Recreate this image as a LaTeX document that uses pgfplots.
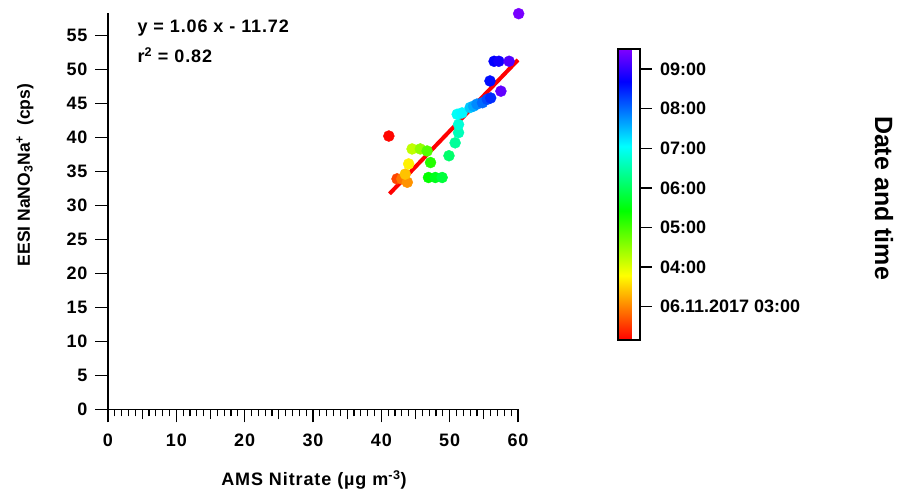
\documentclass[border=0pt]{standalone}
\usepackage{fontspec}
\setmainfont{Liberation Sans}
\newfontfamily\spaced[LetterSpace=5]{Liberation Sans}
\usepackage{pgfplots}
\usepackage{pgfplotstable}
\pgfplotsset{compat=1.18}
\newcommand\f{\spaced\bfseries\fontsize{18}{20}\selectfont}
\newcommand\fp{\bfseries\fontsize{18}{20}\selectfont}
\newcommand\fl{\bfseries\fontsize{17.5}{20}\selectfont}
\pgfplotstableread{
x y t
41.1 40.2 2.2
42.3 33.9 2.6
43.0 33.9 2.9
43.8 33.4 3.1
43.5 34.6 3.4
44.0 36.1 3.7
44.5 38.3 4.2
45.7 38.3 4.5
46.7 38.0 4.9
47.2 36.3 5.2
46.9 34.1 5.4
47.9 34.1 5.6
48.9 34.1 5.8
49.9 37.3 6.1
50.8 39.2 6.4
51.3 40.7 6.6
51.3 41.9 6.8
51.1 43.4 7.0
51.8 43.6 7.1
53.0 44.4 7.4
53.5 44.6 7.6
54.0 44.9 7.8
54.8 45.1 8.0
55.5 45.6 8.2
56.0 45.8 8.4
55.9 48.3 8.6
56.5 51.2 8.7
57.2 51.2 8.8
58.7 51.2 9.2
57.5 46.8 9.3
60.1 58.2 9.45
}\pts
\begin{document}
\begin{tikzpicture}
\path[use as bounding box] (0,0) rectangle (899pt,-500pt);
\begin{axis}[
  at={(108pt,-409.3pt)}, anchor=south west,
  width=410pt, height=396.3pt, scale only axis,
  xmin=0, xmax=60, ymin=0, ymax=58.3,
  clip=false,
  axis x line*=bottom, axis y line*=left,
  axis line style={line width=1.6pt, -},
  xtick={0,10,...,60}, minor x tick num=9,
  extra x ticks={5,15,25,35,45,55}, extra x tick labels={},
  extra x tick style={major tick length=10pt},
  ytick={0,5,...,55},
  tick align=outside,
  major tick length=13pt, minor tick length=7pt,
  every tick/.style={black, line width=1.3pt},
  /pgf/number format/assume math mode=true,
  tick label style={font=\f},
  xticklabel style={yshift=-8pt},
  yticklabel style={xshift=-4pt},
  colormap={igorrainbow}{rgb255(0cm)=(255,0,0); rgb255(2cm)=(255,255,0); rgb255(4cm)=(0,255,0); rgb255(6cm)=(0,255,255); rgb255(8cm)=(0,0,255); rgb255(9cm)=(128,0,255)},
  point meta min=2.16, point meta max=9.5,
  colorbar,
  colorbar style={
    at={(parent axis.south east)},
    anchor=south west,
    xshift=91pt, yshift=69.3pt,
    width=22pt, height=290.7pt, scale only axis,
    axis line style={line width=2pt},
    ytick={3,4,5,6,7,8,9},
    yticklabels={06.11.2017 03:00,04:00,05:00,06:00,07:00,08:00,09:00},
    ytick pos=right,
    tick align=outside,
    major tick length=12pt,
    every tick/.style={black, line width=1.5pt},
    yticklabel style={font=\fp, anchor=west, xshift=5pt},
  },
]
\addplot[scatter, only marks, mark=*, mark size=5.5pt,
  scatter/use mapped color={draw=mapped color, fill=mapped color},
  point meta=explicit] table[x=x, y=y, meta=t] {\pts};
\addplot[red, line width=4pt] coordinates {(41.2,31.7) (60,51.4)};
\end{axis}
\node[font=\f] at (314pt,-480pt) {AMS Nitrate (µg m\textsuperscript{-3})};
\node[rotate=90, font=\fl] at (25pt,-175pt) {EESI NaNO\textsubscript{3}Na\textsuperscript{+}\ \ (cps)};
\node[anchor=west, font=\f] at (134pt,-28pt) {y = 1.06 x - 11.72};
\node[anchor=west, font=\f] at (134pt,-55pt) {r\textsuperscript{2} = 0.82};
\node[rotate=-90, font=\bfseries\fontsize{25}{28}\selectfont] at (884pt,-198pt) {Date and time};
\end{tikzpicture}
\end{document}
